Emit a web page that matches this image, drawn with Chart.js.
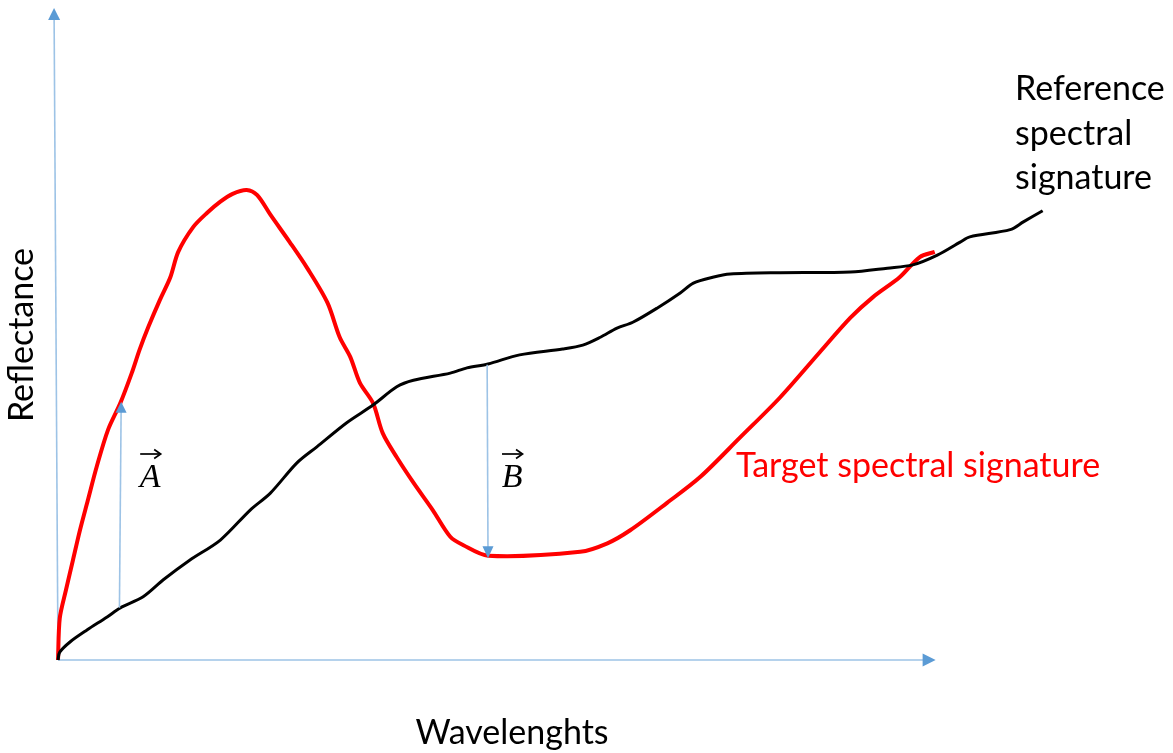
<!DOCTYPE html>
<html>
<head>
<meta charset="utf-8">
<title>Spectral signatures</title>
<script src="https://cdn.jsdelivr.net/npm/chart.js@4/dist/chart.umd.min.js"></script>
<style>
  html, body { margin: 0; padding: 0; background: #ffffff; }
  #wrap { width: 1173px; height: 753px; }
</style>
</head>
<body>
<div id="wrap"><canvas id="chart" width="1173" height="753"></canvas></div>
<script>
// Reference spectral signature (wavelength, reflectance), arbitrary units
const refWavelength = [0, 0.2, 1.4, 3.3, 5.6, 7.1, 9.7, 12.0, 15.0, 18.5, 21.9, 24.2, 27.2, 29.5, 32.9, 35.9, 38.6, 40.5, 44.7, 46.6, 49.0, 52.6, 57.5, 59.8, 61.8, 63.7, 65.5, 68.3, 70.9, 72.4, 74.6, 76.6, 82.3, 90.3, 94.5, 97.4, 100.2, 102.8, 103.9, 108.5, 110.0, 112.2];
const refReflectance = [0, 1.2, 2.8, 4.6, 6.6, 8.0, 9.7, 12.3, 15.3, 18.4, 23.0, 25.6, 30.2, 32.7, 36.4, 39.1, 41.9, 42.9, 44.0, 44.8, 45.4, 46.8, 47.7, 48.3, 49.5, 50.9, 51.8, 54.0, 56.3, 57.8, 58.7, 59.2, 59.4, 59.5, 60.1, 60.6, 62.1, 64.1, 64.9, 66.0, 67.2, 68.9];

// Target spectral signature
const targetWavelength = [0, 0.2, 0.9, 1.7, 2.5, 3.4, 4.4, 5.7, 7.1, 8.4, 9.3, 10.3, 11.6, 12.8, 13.7, 15.4, 17.0, 18.5, 19.9, 21.5, 22.7, 24.2, 26.4, 28.4, 30.7, 32.1, 33.3, 34.4, 35.9, 37.0, 38.6, 40.5, 42.7, 44.7, 46.2, 49.0, 59.5, 62.6, 65.2, 69.4, 73.2, 77.7, 82.3, 86.8, 90.3, 92.9, 95.9, 98.2, 99.9];
const targetReflectance = [0, 6.4, 10.7, 15.3, 19.9, 24.5, 29.6, 35.3, 39.4, 44.0, 47.6, 51.1, 55.2, 58.7, 62.6, 66.4, 68.6, 70.3, 71.5, 72.1, 71.3, 68.3, 64.1, 60.1, 54.8, 49.5, 46.5, 42.5, 39.4, 34.8, 31.1, 27.2, 23.0, 18.9, 17.6, 16.0, 16.6, 17.9, 19.9, 24.1, 28.1, 34.1, 40.3, 47.2, 52.5, 55.7, 58.7, 61.8, 62.6];

// Difference vectors between the two signatures: [wavelength, start, end]
const vectorA = [7.2, 8.0, 39.6];
const vectorB = [49.0, 45.3, 15.6];

// Axis extents
const axisLength = [100, 100];

const axisLine = '#9dc3e6';
const axisHead = '#5b9bd5';
const textFont = '34px Lato';

function toPoints(xs, ys) {
  return xs.map((x, i) => ({ x: x, y: ys[i] }));
}

function arrowHead(ctx, fx, fy, tx, ty, len, width, color) {
  const ang = Math.atan2(ty - fy, tx - fx);
  ctx.save();
  ctx.translate(tx, ty);
  ctx.rotate(ang);
  ctx.fillStyle = color;
  ctx.beginPath();
  ctx.moveTo(0, 0);
  ctx.lineTo(-len, -width / 2);
  ctx.lineTo(-len, width / 2);
  ctx.closePath();
  ctx.fill();
  ctx.restore();
}

function arrow(ctx, fx, fy, tx, ty, lineColor, lineWidth, headColor, len, width) {
  const ang = Math.atan2(ty - fy, tx - fx);
  ctx.save();
  ctx.strokeStyle = lineColor;
  ctx.lineWidth = lineWidth;
  ctx.beginPath();
  ctx.moveTo(fx, fy);
  ctx.lineTo(tx - Math.cos(ang) * (len - 1), ty - Math.sin(ang) * (len - 1));
  ctx.stroke();
  ctx.restore();
  arrowHead(ctx, fx, fy, tx, ty, len, width, headColor);
}

function vectorLabel(ctx, letter, cx, baseline) {
  ctx.save();
  ctx.fillStyle = '#000000';
  ctx.font = 'italic 34px "Liberation Serif"';
  ctx.textAlign = 'center';
  ctx.textBaseline = 'alphabetic';
  ctx.fillText(letter, cx, baseline);
  // small arrow over the letter
  ctx.strokeStyle = '#000000';
  ctx.lineWidth = 1.7;
  ctx.beginPath();
  ctx.moveTo(cx - 10, baseline - 33);
  ctx.lineTo(cx + 9, baseline - 33);
  ctx.stroke();
  ctx.beginPath();
  ctx.moveTo(cx + 4, baseline - 37.5);
  ctx.lineTo(cx + 10.5, baseline - 33);
  ctx.lineTo(cx + 4, baseline - 28.5);
  ctx.stroke();
  ctx.restore();
}

const annotations = {
  id: 'annotations',
  beforeDatasetsDraw(chart) {
    const ctx = chart.ctx;
    const xs = chart.scales.x, ys = chart.scales.y;
    const ox = xs.getPixelForValue(0), oy = ys.getPixelForValue(0);
    // y axis
    arrow(ctx, ox, oy, xs.getPixelForValue(-0.45), ys.getPixelForValue(axisLength[1]),
      axisLine, 1.6, axisHead, 12, 12);
    // x axis
    arrow(ctx, ox, oy, xs.getPixelForValue(axisLength[0]), oy,
      axisLine, 1.6, axisHead, 13, 13);

    // axis titles
    ctx.save();
    ctx.fillStyle = '#000000';
    ctx.font = textFont;
    ctx.textAlign = 'center';
    ctx.textBaseline = 'middle';
    ctx.fillText('Wavelenghts', 512, 733);
    ctx.translate(22, 335);
    ctx.rotate(-Math.PI / 2);
    ctx.fillText('Reflectance', 0, 0);
    ctx.restore();
  },
  afterDatasetsDraw(chart) {
    const ctx = chart.ctx;
    const xs = chart.scales.x, ys = chart.scales.y;

    // difference vectors
    arrow(ctx, xs.getPixelForValue(vectorA[0] - 0.2), ys.getPixelForValue(vectorA[1]),
      xs.getPixelForValue(vectorA[0]), ys.getPixelForValue(vectorA[2]),
      axisLine, 1.6, axisHead, 11, 11);
    arrow(ctx, xs.getPixelForValue(vectorB[0] - 0.1), ys.getPixelForValue(vectorB[1]),
      xs.getPixelForValue(vectorB[0]), ys.getPixelForValue(vectorB[2]),
      axisLine, 1.6, axisHead, 12, 11);

    vectorLabel(ctx, 'A', xs.getPixelForValue(vectorA[0]) + 29, 487);
    vectorLabel(ctx, 'B', xs.getPixelForValue(vectorB[0]) + 24, 487);

    // series labels
    ctx.save();
    ctx.font = textFont;
    ctx.textAlign = 'left';
    ctx.textBaseline = 'alphabetic';
    ctx.fillStyle = '#ff0000';
    ctx.fillText('Target spectral signature', 736, 477);
    ctx.fillStyle = '#000000';
    ctx.fillText('Reference', 1015, 100);
    ctx.fillText('spectral', 1015, 145);
    ctx.fillText('signature', 1015, 189);
    ctx.restore();
  }
};

new Chart(document.getElementById('chart'), {
  type: 'line',
  data: {
    datasets: [
      {
        label: 'Reference spectral signature',
        data: toPoints(refWavelength, refReflectance),
        borderColor: '#000000',
        borderWidth: 3,
        pointRadius: 0,
        tension: 0.3,
        clip: false,
        fill: false
      },
      {
        label: 'Target spectral signature',
        data: toPoints(targetWavelength, targetReflectance),
        borderColor: '#ff0000',
        borderWidth: 4,
        pointRadius: 0,
        tension: 0.3,
        clip: false,
        fill: false
      }
    ]
  },
  options: {
    responsive: false,
    devicePixelRatio: 1,
    animation: false,
    layout: { padding: { left: 58, right: 18, top: 8, bottom: 93 } },
    scales: {
      x: { type: 'linear', min: 0, max: 125, display: false },
      y: { type: 'linear', min: 0, max: 100, display: false }
    },
    plugins: {
      legend: { display: false },
      tooltip: { enabled: false }
    }
  },
  plugins: [annotations]
});
</script>
</body>
</html>
